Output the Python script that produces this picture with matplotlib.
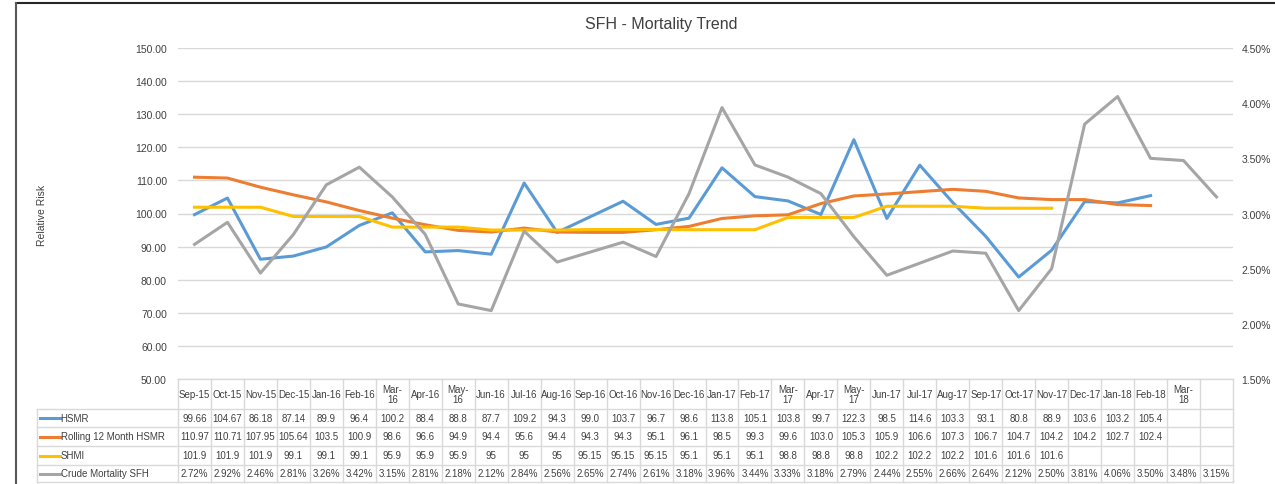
"""
SFH mortality trend chart with data table underneath
"""

import matplotlib
matplotlib.use('Agg')
import matplotlib.pyplot as plt
import numpy as np

from matplotlib import ticker
from matplotlib.lines import Line2D
from matplotlib.transforms import blended_transform_factory


months = ['Sep-15', 'Oct-15', 'Nov-15', 'Dec-15', 'Jan-16', 'Feb-16', 'Mar-\n16',
          'Apr-16', 'May-\n16', 'Jun-16', 'Jul-16', 'Aug-16', 'Sep-16', 'Oct-16',
          'Nov-16', 'Dec-16', 'Jan-17', 'Feb-17', 'Mar-\n17', 'Apr-17', 'May-\n17',
          'Jun-17', 'Jul-17', 'Aug-17', 'Sep-17', 'Oct-17', 'Nov-17', 'Dec-17',
          'Jan-18', 'Feb-18', 'Mar-\n18', '']

hsmr = ['99.66', '104.67', '86.18', '87.14', '89.9', '96.4', '100.2', '88.4', '88.8',
        '87.7', '109.2', '94.3', '99.0', '103.7', '96.7', '98.6', '113.8', '105.1',
        '103.8', '99.7', '122.3', '98.5', '114.6', '103.3', '93.1', '80.8', '88.9',
        '103.6', '103.2', '105.4']

rolling = ['110.97', '110.71', '107.95', '105.64', '103.5', '100.9', '98.6', '96.6',
           '94.9', '94.4', '95.6', '94.4', '94.3', '94.3', '95.1', '96.1', '98.5',
           '99.3', '99.6', '103.0', '105.3', '105.9', '106.6', '107.3', '106.7',
           '104.7', '104.2', '104.2', '102.7', '102.4']

shmi = ['101.9', '101.9', '101.9', '99.1', '99.1', '99.1', '95.9', '95.9', '95.9',
        '95', '95', '95', '95.15', '95.15', '95.15', '95.1', '95.1', '95.1', '98.8',
        '98.8', '98.8', '102.2', '102.2', '102.2', '101.6', '101.6', '101.6']

crude = ['2.72%', '2.92%', '2.46%', '2.81%', '3.26%', '3.42%', '3.15%', '2.81%',
         '2.18%', '2.12%', '2.84%', '2.56%', '2.65%', '2.74%', '2.61%', '3.18%',
         '3.96%', '3.44%', '3.33%', '3.18%', '2.79%', '2.44%', '2.55%', '2.66%',
         '2.64%', '2.12%', '2.50%', '3.81%', '4.06%', '3.50%', '3.48%', '3.15%']

series = [
  ('HSMR', hsmr, '#5B9BD5', False),
  ('Rolling 12 Month HSMR', rolling, '#ED7D31', False),
  ('SHMI', shmi, '#FFC000', False),
  ('Crude Mortality SFH', crude, '#A5A5A5', True),
]

W, H = 1275, 485
plt.rcParams['font.family'] = ['Liberation Sans', 'DejaVu Sans']
txt = '#404040'
fs_tab = 7.0

fig = plt.figure(figsize=(W / 100, H / 100), dpi=100)
ax = fig.add_axes([178 / W, 1 - 380 / H, (1233 - 178) / W, (380 - 49) / H])
ax2 = ax.twinx()

n = len(months)
for name, vals, color, pct in series:
  y = np.array([float(v.rstrip('%')) for v in vals])
  x = np.arange(len(y))
  if pct:
    ax2.plot(x, y / 100, color=color, lw=2.2, zorder=3)
  else:
    ax.plot(x, y, color=color, lw=2.2, zorder=3)

ax.set_xlim(-0.5, n - 0.5)
ax.set_ylim(50, 150)
ax.yaxis.set_major_locator(ticker.MultipleLocator(10))
ax.yaxis.set_major_formatter(ticker.FormatStrFormatter('%.2f'))
ax.grid(axis='y', color='#D9D9D9', lw=1)
ax.set_axisbelow(True)
ax.set_xticks([])
ax2.set_ylim(0.015, 0.045)
ax2.yaxis.set_major_locator(ticker.MultipleLocator(0.005))
ax2.yaxis.set_major_formatter(ticker.PercentFormatter(1.0, decimals=2, symbol='%'))
ax2.set_zorder(ax.get_zorder() + 1)
ax2.patch.set_visible(False)

for a in (ax, ax2):
  for s in a.spines.values():
    s.set_visible(False)
  a.tick_params(axis='y', length=0, labelsize=7.5, colors=txt)
ax.tick_params(axis='y', pad=8)
ax2.tick_params(axis='y', pad=6)

fig.text(661 / W, 1 - 25 / H, 'SFH - Mortality Trend', ha='center', va='center',
         fontsize=11.5, color=txt)
fig.text(42 / W, 1 - 215 / H, 'Relative Risk', rotation=90, ha='center',
         va='center', fontsize=7.5, color=txt)

# data table below the axes, columns follow the x axis
tr = blended_transform_factory(ax.transData, fig.transFigure)
grid_c = '#D9D9D9'
rows_y = [380, 410, 428, 447, 466, 483]
fy = lambda p: 1 - p / H
x_left = -0.5 - (178 - 37) / ((1233 - 178) / n)

ax.add_artist(Line2D([-0.5, n - 0.5], [fy(rows_y[0])] * 2, transform=tr,
                     color=grid_c, lw=1, clip_on=False))
for yy in rows_y[1:]:
  ax.add_artist(Line2D([x_left, n - 0.5], [fy(yy)] * 2, transform=tr,
                       color=grid_c, lw=1, clip_on=False))
for i in range(n + 1):
  ax.add_artist(Line2D([i - 0.5, i - 0.5], [fy(rows_y[0]), fy(rows_y[-1])],
                       transform=tr, color=grid_c, lw=1, clip_on=False))
ax.add_artist(Line2D([x_left, x_left], [fy(rows_y[1]), fy(rows_y[-1])],
                     transform=tr, color=grid_c, lw=1, clip_on=False))

for i, m in enumerate(months):
  ax.text(i, fy((rows_y[0] + rows_y[1]) / 2), m, transform=tr, ha='center',
          va='center', fontsize=fs_tab, color=txt, linespacing=1.0)

for r, (name, vals, color, pct) in enumerate(series):
  yc = fy((rows_y[r + 1] + rows_y[r + 2]) / 2)
  ax.add_artist(Line2D([x_left + 0.1, x_left + 0.7], [yc, yc], transform=tr,
                       color=color, lw=2.2, clip_on=False))
  ax.text(x_left + 0.72, yc, name, transform=tr, ha='left', va='center',
          fontsize=fs_tab, color=txt)
  for i, v in enumerate(vals):
    ax.text(i, yc, v, transform=tr, ha='center', va='center', fontsize=fs_tab,
            color=txt)

# outer frame
fig.add_artist(Line2D([16 / W, 1], [fy(4)] * 2, color='#262626', lw=1.5))
fig.add_artist(Line2D([16 / W, 16 / W], [fy(4), 0], color='#595959', lw=1.5))

fig.savefig('out.png', dpi=100)
